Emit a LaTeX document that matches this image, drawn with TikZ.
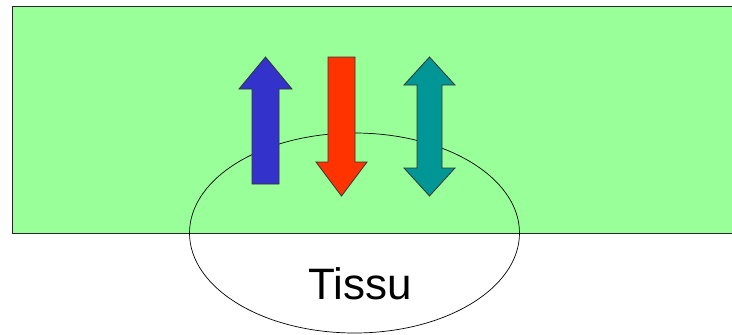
\documentclass[tikz,border=0pt]{standalone}
\usepackage{fontspec}
\setmainfont{Liberation Sans}
\definecolor{bggreen}{RGB}{153,255,153}
\definecolor{upblue}{RGB}{51,51,204}
\definecolor{downred}{RGB}{255,51,0}
\definecolor{bothteal}{RGB}{0,150,150}
\tikzset{
  arrowshape/.style={draw=black!80, line width=0.8pt, line join=miter},
}
\begin{document}
\begin{tikzpicture}[x=1pt,y=-1pt]
\useasboundingbox (0,0) rectangle (732,335);
\fill[white] (0,0) rectangle (732,335);
% membrane band
\draw[fill=bggreen, line width=1pt, draw=black!85] (12,6) rectangle (740,233);
% tissue ellipse
\draw[line width=0.7pt] (354.5,233) ellipse [x radius=165, y radius=100];
\node[font=\fontsize{44}{50}\selectfont] (tissu) at (360,284) {Tissu};
% blue up arrow
\draw[arrowshape, fill=upblue] (252,184) -- (252,89) -- (239,89) -- (265.5,57) -- (292,89) -- (279,89) -- (279,184) -- cycle;
% red down arrow
\draw[arrowshape, fill=downred] (328,57) -- (355,57) -- (355,162) -- (367,162) -- (341.5,196) -- (316,162) -- (328,162) -- cycle;
% teal double arrow
\draw[arrowshape, fill=bothteal] (429.5,57) -- (455,85) -- (442,85) -- (442,168) -- (455,168) -- (429.5,196) -- (404,168) -- (417,168) -- (417,85) -- (404,85) -- cycle;
\end{tikzpicture}
\end{document}
